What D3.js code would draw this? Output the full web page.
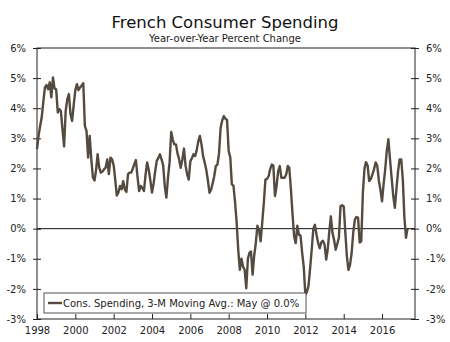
<!DOCTYPE html>
<html><head><meta charset="utf-8">
<script src="https://cdn.jsdelivr.net/npm/d3@7"></script>
<style>
body{margin:0;background:#fff;}
svg{display:block;font-family:"DejaVu Sans",Verdana,sans-serif;}
</style></head>
<body><svg id="c" width="450" height="342"></svg>
<script>
const title = "French Consumer Spending";
const subtitle = "Year-over-Year Percent Change";
const seriesName = "Cons. Spending, 3-M Moving Avg.: May @ 0.0%";
const startMonth = "1998-01";
const values = [
// 1998
2.64,3.1,3.4,3.7,4.2,4.69,4.77,4.63,4.86,4.36,5.02,4.66,
// 1999
4.63,3.86,3.97,3.91,3.3,2.73,3.9,4.3,4.47,3.8,3.58,4.1,
// 2000
4.6,4.8,4.6,4.69,4.75,4.83,3.41,3.25,2.36,3.08,2.3,1.7,
// 2001
1.6,1.97,2.47,2.03,1.86,1.9,1.97,2.03,2.3,1.81,2.36,2.3,
// 2002
2.1,1.6,1.1,1.2,1.42,1.31,1.58,1.3,1.22,1.81,1.86,1.86,
// 2003
2.0,2.15,2.28,1.7,1.25,1.42,1.35,1.25,1.8,2.2,1.95,1.6,
// 2004
1.2,1.5,1.9,2.25,2.35,2.47,2.3,2.1,1.4,1.03,1.7,2.2,
// 2005
3.21,2.95,2.8,2.8,2.5,2.3,2.02,2.3,2.66,2.1,1.8,1.63,
// 2006
2.24,2.35,2.47,2.41,2.6,2.9,3.08,2.8,2.4,2.2,1.95,1.6,
// 2007
1.19,1.3,1.5,1.74,2.08,2.13,2.5,3.36,3.6,3.74,3.65,3.61,
// 2008
2.58,2.36,1.47,1.43,0.9,0.2,-0.7,-1.37,-1.0,-1.26,-1.37,-1.98,
// 2009
-1.0,-0.8,-0.76,-1.53,-0.9,-0.48,0.10,-0.05,-0.42,0.2,0.86,1.63,
// 2010
1.65,1.75,1.97,2.13,2.1,1.08,1.41,1.9,2.08,1.69,1.69,1.69,
// 2011
1.8,2.08,2.02,1.3,0.5,-0.26,-0.48,0.1,-0.2,-0.23,-0.8,-1.26,
// 2012
-2.2,-2.09,-1.9,-1.3,-0.7,0.0,0.13,-0.2,-0.48,-0.65,-0.45,-0.4,
// 2013
-0.53,-1.03,-0.7,-0.1,0.41,-0.14,-0.37,-0.7,-0.5,-0.3,0.75,0.78,
// 2014
0.74,-0.14,-0.9,-1.37,-1.2,-0.8,-0.14,0.3,0.39,0.36,-0.46,-0.42,
// 2015
1.2,2.0,2.21,2.1,1.58,1.65,1.8,1.97,2.2,2.1,1.6,1.3,
// 2016
0.91,1.5,1.97,2.58,2.97,2.3,1.7,1.1,0.69,1.3,1.9,2.3,
// 2017
2.3,1.6,0.4,-0.3,0.0
];
const yTicks = [-3,-2,-1,0,1,2,3,4,5,6];
const xTickYears = [1998,2000,2002,2004,2006,2008,2010,2012,2014,2016];

const parse = d3.timeParse("%Y-%m");
const t0 = parse(startMonth);
const data = values.map((v,i)=>({date:d3.timeMonth.offset(t0,i), value:v}));

const svg = d3.select("#c");
const L=37, R=415, T=48, B=319;
const x = d3.scaleTime().domain([new Date(1998,0,1), new Date(2017,8,20)]).range([L,R]);
const y = d3.scaleLinear().domain([-3,6]).range([B,T]);

svg.append("text").attr("x",225).attr("y",28).attr("text-anchor","middle")
  .attr("font-size",16.5).attr("fill","#111").text(title);
svg.append("text").attr("x",225).attr("y",42).attr("text-anchor","middle")
  .attr("font-size",10).attr("fill","#222").text(subtitle);

// frame
svg.append("rect").attr("x",L).attr("y",T).attr("width",R-L).attr("height",B-T)
  .attr("fill","none").attr("stroke","#222").attr("stroke-width",1);

// left axis
const yl = svg.append("g").attr("transform",`translate(${L},0)`)
  .call(d3.axisLeft(y).tickValues(yTicks).tickFormat(d=>d+"%").tickSize(4).tickPadding(7));
const yr = svg.append("g").attr("transform",`translate(${R},0)`)
  .call(d3.axisRight(y).tickValues(yTicks).tickFormat(d=>d+"%").tickSize(4).tickPadding(7));
[yl,yr].forEach(g=>{
  g.select(".domain").remove();
  g.selectAll(".tick line").attr("stroke","#222");
  g.selectAll("text").attr("font-size",10).attr("fill","#222").attr("font-family","DejaVu Sans, sans-serif");
});
yl.selectAll(".tick line").attr("x1",4);
yr.selectAll(".tick line").attr("x1",-4);

// x axis
const xa = svg.append("g").attr("transform",`translate(0,${B})`)
  .call(d3.axisBottom(x).tickValues(xTickYears.map(yy=>new Date(yy,0,1))).tickFormat(d3.timeFormat("%Y")).tickSize(0).tickPadding(8));
xa.select(".domain").remove();
xa.selectAll(".tick line").attr("y1",-5).attr("y2",0).attr("stroke","#222");
xa.selectAll("text").attr("font-size",10).attr("fill","#222").attr("font-family","DejaVu Sans, sans-serif");

// zero line
svg.append("line").attr("x1",L).attr("x2",R).attr("y1",y(0)).attr("y2",y(0))
  .attr("stroke","#111").attr("stroke-width",1);

// series
const line = d3.line().x(d=>x(d.date)).y(d=>y(d.value));
svg.append("path").datum(data).attr("d",line).attr("fill","none")
  .attr("stroke","#544a3f").attr("stroke-width",2.4).attr("stroke-linejoin","round");

// legend
const lg = svg.append("g");
lg.append("rect").attr("x",44).attr("y",293).attr("width",262).attr("height",20)
  .attr("fill","#fff").attr("stroke","#555").attr("stroke-width",1);
lg.append("line").attr("x1",48).attr("x2",62).attr("y1",303).attr("y2",303)
  .attr("stroke","#544a3f").attr("stroke-width",2.4);
lg.append("text").attr("x",63).attr("y",307).attr("font-size",10).attr("fill","#222").text(seriesName);
</script></body></html>
